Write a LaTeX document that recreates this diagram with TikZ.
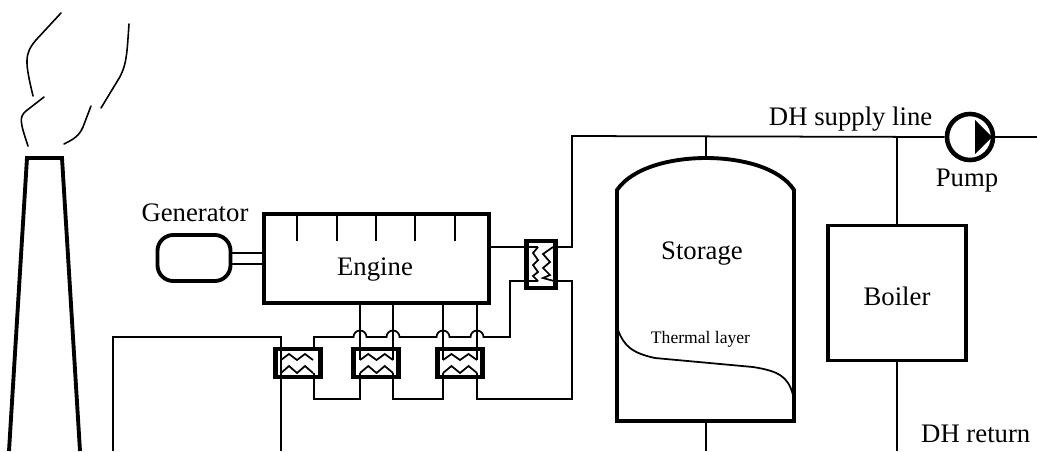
\documentclass[tikz,border=0pt]{standalone}
\usepackage{fontspec}
\setmainfont{Liberation Serif}
\usetikzlibrary{calc}
\tikzset{
	unit/.style={draw,line width=1.1pt,inner sep=0pt},
	exch/.style={draw,line width=1.2pt,inner sep=0pt,minimum width=4.5mm,minimum height=2.85mm},
	pipe/.style={line width=0.5pt},
	smoke/.style={line width=0.45pt,line cap=round},
	lbl/.style={font=\fontsize{7.6}{9}\selectfont,inner sep=0pt}
}
% wiggle with four strokes
\newcommand{\wavy}[3]{\draw[line width=0.5pt] #1 -- ++(#2*0.25,#3) -- ++(#2*0.25,-#3) -- ++(#2*0.25,#3) -- ++(#2*0.25,-#3);}
\begin{document}
\begin{tikzpicture}[x=0.01cm,y=-0.01cm]
	\useasboundingbox (0,0) rectangle (1037,451);

	% chimney
	\draw[line width=1.1pt] (9,451) -- (27,158) -- (62,158) -- (80,451);
	\draw[smoke] (61,13) -- (36,40) .. controls (24,54) and (25,62) .. (33,96);
	\draw[smoke] (44,97) -- (26,111) .. controls (19,117) and (20,122) .. (28,146);
	\draw[smoke] (91,106) -- (83,127) .. controls (79,136) and (74,139) .. (64,144);
	\draw[smoke] (101,108) -- (118,80) .. controls (127,66) and (127,52) .. (129,24);

	% units
	\node[unit,rounded corners=4.5pt,minimum width=7.3mm,minimum height=4.6mm] (generator) at (194,258) {};
	\node[unit,minimum width=22.5mm,minimum height=8.9mm] (engine) at (376.5,258.5) {};
	\node[lbl] (enginetext) at (375,270) {Engine};
	\node[lbl] (generatortext) at (195,213) {Generator};
	\foreach \x in {297,337,376,415,455}
		\draw[pipe] (\x,214) -- (\x,241);
	\draw[pipe] (231,253) -- (263,253);
	\draw[pipe] (231,264) -- (263,264);

	% exchangers
	\node[exch] (hxa) at (298,363) {};
	\node[exch] (hxb) at (376,363) {};
	\node[exch] (hxc) at (460,363) {};
	\node[exch,minimum width=2.9mm,minimum height=4.7mm] (hxd) at (541,264.5) {};
	\wavy{(281,360)}{32}{-6}
	\wavy{(281,373)}{32}{-7}
	\wavy{(360,360)}{33}{-6}
	\wavy{(360,373)}{33}{-7}
	\wavy{(443,360)}{34}{-6}
	\wavy{(443,373)}{34}{-7}
	\draw[line width=0.5pt] (538,247) -- (533,253) -- (538,260) -- (533,265) -- (538,272) -- (533,276) -- (538,281);
	\draw[line width=0.5pt] (553,247) -- (543,254) -- (550,262) -- (543,268) -- (550,275) -- (543,278) -- (554,281);

	% cooling circuit
	\draw[pipe] (113,451) -- (113,337) -- (281,337) -- (281,451);
	\draw[pipe] (314,349) -- (314,337) -- (353.5,337) arc (180:360:6.5) -- (386.5,337) arc (180:360:6.5)
		-- (436.5,337) arc (180:360:6.5) -- (470.5,337) arc (180:360:6.5) -- (510,337) -- (510,281) -- (538,281);
	\draw[pipe] (360,304) -- (360,360);
	\draw[pipe] (393,304) -- (393,360);
	\draw[pipe] (443,304) -- (443,360);
	\draw[pipe] (477,304) -- (477,360);
	\draw[pipe] (314,373) -- (314,399) -- (360,399) -- (360,373);
	\draw[pipe] (393,373) -- (393,399) -- (443,399) -- (443,373);
	\draw[pipe] (477,373) -- (477,399) -- (572,399) -- (572,281) -- (554,281);
	\draw[pipe] (489,247) -- (538,247);

	% storage tank
	\draw[unit] (617,421) -- (617,190) .. controls (632,168) and (670,158) .. (706,158)
		.. controls (742,158) and (780,168) .. (794,190) -- (794,421) -- cycle;
	\node[lbl] (storagetext) at (702,254) {Storage};
	\node[font=\fontsize{5}{6}\selectfont,inner sep=0pt] (layertext) at (700.5,339) {Thermal layer};
	\draw[pipe] (618,330) .. controls (624,346) and (632,353) .. (655,358)
		-- (753,367) .. controls (778,371) and (788,376) .. (793,395);

	% boiler
	\node[unit,minimum width=13.8mm,minimum height=13.5mm] (boiler) at (897,293) {};
	\node[lbl] (boilertext) at (897,296) {Boiler};

	% district heating side
	\node[draw,circle,line width=1.3pt,minimum size=4.6mm,inner sep=0pt] (pump) at (970,137) {};
	\fill (975,120) -- (992,137) -- (975,154) -- cycle;
	\draw[pipe] (553,247) -- (572,247) -- (572,136) -- (pump.west);
	\draw[pipe] (pump.east) -- (1037,137);
	\draw[pipe] (706,136) -- (706,158);
	\draw[pipe] (897,136) -- (boiler.north);
	\draw[pipe] (boiler.south) -- (897,451);
	\draw[pipe] (706,421) -- (706,451);
	\node[lbl,anchor=east] (supplytext) at (933,119) {DH supply line};
	\node[lbl] (pumptext) at (967,181) {Pump};
	\node[lbl,anchor=east] (returntext) at (1031,434) {DH return};
\end{tikzpicture}
\end{document}
